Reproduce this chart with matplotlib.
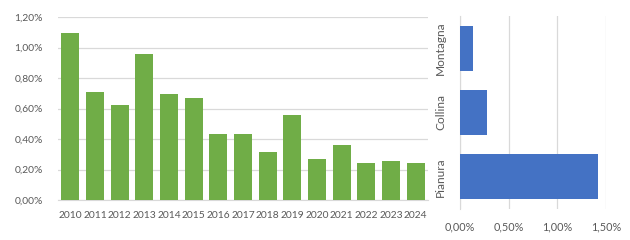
import numpy as np
from matplotlib import pyplot as plt
from matplotlib.ticker import FuncFormatter

years = [str(y) for y in range(2010, 2025)]
rates = [1.095, 0.708, 0.623, 0.957, 0.695, 0.669, 0.433, 0.433,
         0.315, 0.557, 0.269, 0.361, 0.243, 0.256, 0.243]

zones = ["Pianura", "Collina", "Montagna"]
zone_rates = [1.418, 0.277, 0.134]

green = "#70AD47"
blue = "#4472C4"
grid_col = "#D9D9D9"
text_col = "#595959"

plt.rcParams["font.family"] = ["Lato", "DejaVu Sans"]


def pct(v, pos):
    return ("%.2f%%" % v).replace(".", ",")


fig = plt.figure(figsize=(6.3, 2.4), dpi=100)

# left: yearly bars
ax1 = fig.add_axes([58 / 630, 40 / 240, 370 / 630, 183 / 240])
x = np.arange(len(years))
ax1.bar(x, rates, width=0.73, color=green, zorder=3)
ax1.set_xlim(-0.5, len(years) - 0.5)
ax1.set_ylim(0, 1.2)
ax1.set_yticks(np.arange(0, 1.21, 0.2))
ax1.yaxis.set_major_formatter(FuncFormatter(pct))
ax1.set_xticks(x)
ax1.set_xticklabels(years)
ax1.grid(axis="y", color=grid_col, linewidth=0.9, zorder=0)
for s in ["top", "right", "left"]:
    ax1.spines[s].set_visible(False)
ax1.spines["bottom"].set_color(grid_col)
ax1.tick_params(axis="both", length=0, labelsize=7.4, colors=text_col)
ax1.tick_params(axis="y", pad=11)
ax1.tick_params(axis="x", pad=8)

# right: zones
ax2 = fig.add_axes([460 / 630, 31 / 240, 146 / 630, 193 / 240])
y = np.arange(len(zones))
ax2.barh(y, zone_rates, height=0.70, color=blue, zorder=3)
ax2.set_ylim(-0.5, len(zones) - 0.5)
ax2.set_xlim(0, 1.5)
ax2.set_xticks([0, 0.5, 1.0, 1.5])
ax2.xaxis.set_major_formatter(FuncFormatter(pct))
ax2.set_yticks(y)
ax2.set_yticklabels(zones, rotation=90, va="center", fontsize=8.6)
ax2.grid(axis="x", color=grid_col, linewidth=0.9, zorder=0)
for s in ["top", "right", "bottom"]:
    ax2.spines[s].set_visible(False)
ax2.spines["left"].set_color(grid_col)
ax2.tick_params(axis="both", length=0, colors=text_col)
ax2.tick_params(axis="x", labelsize=7.8, pad=9)
ax2.tick_params(axis="y", pad=10)

fig.savefig("out.png", dpi=100)
